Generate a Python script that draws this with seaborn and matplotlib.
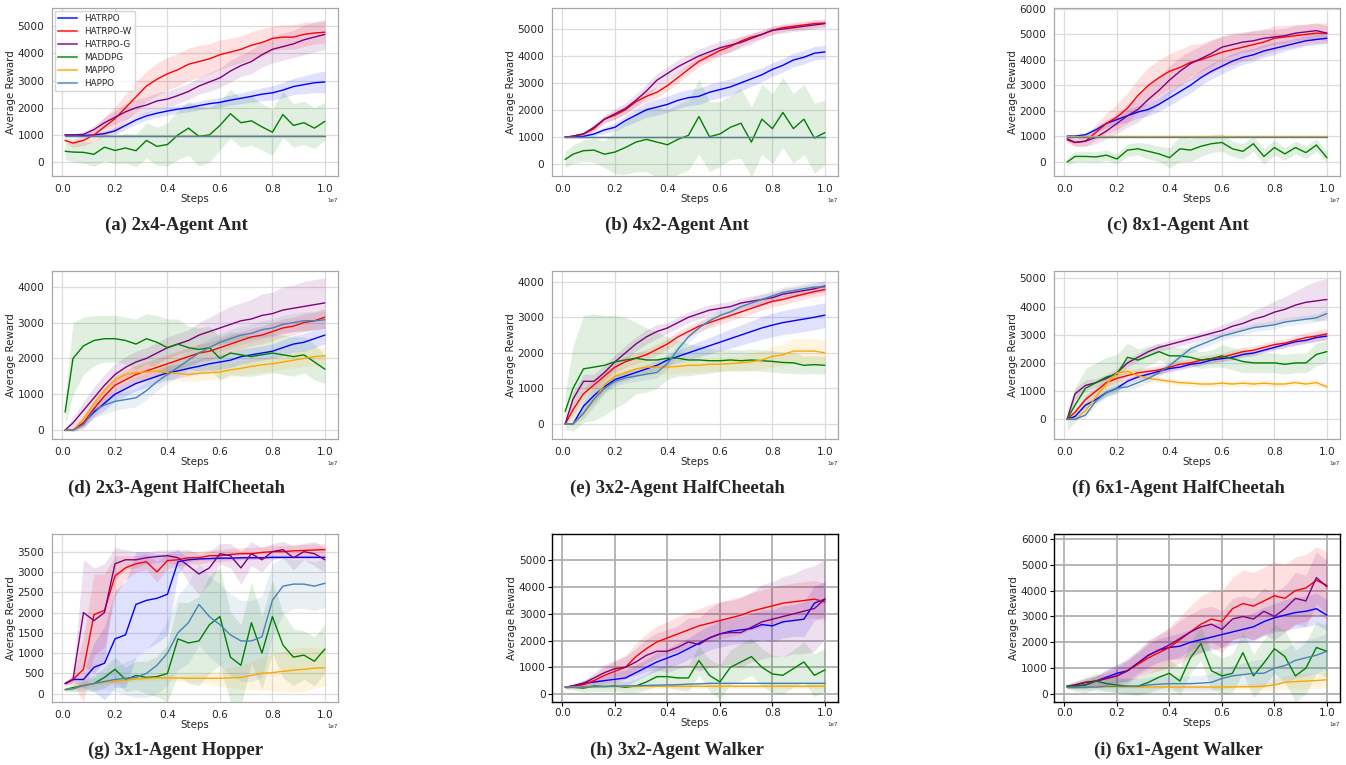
import numpy as np
import pandas as pd
import seaborn as sns
import matplotlib.pyplot as plt
from matplotlib.lines import Line2D
from matplotlib.ticker import MultipleLocator

# x positions of the read-off points (in units of 1e7 steps)
STEPS = [0.01, 0.04, 0.08, 0.12, 0.16, 0.20, 0.24, 0.28, 0.32, 0.36, 0.40, 0.44, 0.48,
         0.52, 0.56, 0.60, 0.64, 0.68, 0.72, 0.76, 0.80, 0.84, 0.88, 0.92, 0.96, 1.00]

ALGOS = ["HATRPO", "HATRPO-W", "HATRPO-G", "MADDPG", "MAPPO", "HAPPO"]
COLORS = ["blue", "red", "purple", "green", "orange", "steelblue"]

# (a) 2x4-Agent Ant
a_hatrpo = [1000, 1000, 980, 1000, 1050, 1150, 1350, 1550, 1700, 1800, 1880, 1950, 2000, 2080, 2150, 2200, 2280, 2350, 2420, 2500, 2550, 2650, 2780, 2850, 2920, 2950]
a_hatrpo_sd = [20, 30, 40, 60, 100, 130, 150, 150, 150, 150, 150, 150, 150, 160, 170, 180, 190, 200, 220, 240, 260, 280, 300, 330, 360, 400]
a_hatrpo_w = [800, 700, 800, 1000, 1300, 1600, 2000, 2400, 2800, 3050, 3250, 3400, 3600, 3700, 3800, 3950, 4050, 4150, 4300, 4400, 4550, 4600, 4600, 4700, 4750, 4780]
a_hatrpo_w_sd = [100, 150, 200, 250, 350, 450, 500, 550, 550, 600, 600, 600, 600, 600, 550, 550, 500, 500, 500, 500, 450, 450, 450, 450, 400, 400]
a_hatrpo_g = [1000, 1000, 1020, 1200, 1450, 1650, 1850, 2000, 2100, 2250, 2320, 2450, 2600, 2800, 2950, 3100, 3350, 3550, 3700, 3950, 4150, 4250, 4350, 4500, 4600, 4700]
a_hatrpo_g_sd = [20, 50, 100, 150, 200, 250, 300, 300, 300, 300, 300, 300, 300, 300, 350, 350, 400, 400, 450, 450, 500, 500, 500, 550, 550, 550]
a_maddpg = [400, 370, 360, 290, 550, 430, 520, 420, 800, 580, 650, 1000, 1250, 950, 1000, 1350, 1780, 1450, 1520, 1300, 1100, 1750, 1350, 1450, 1250, 1500]
a_maddpg_sd = [300, 350, 400, 450, 500, 500, 550, 600, 650, 700, 800, 900, 1000, 1100, 1000, 900, 900, 900, 900, 850, 850, 850, 800, 800, 750, 700]
a_mappo = [975, 975, 975, 975, 975, 975, 975, 975, 975, 975, 975, 975, 975, 975, 975, 975, 975, 975, 975, 975, 975, 975, 975, 975, 975, 975]
a_mappo_sd = [10, 10, 10, 10, 10, 10, 10, 10, 10, 10, 10, 10, 10, 10, 10, 10, 10, 10, 10, 10, 10, 10, 10, 10, 10, 10]
a_happo = [975, 975, 975, 975, 975, 975, 975, 975, 975, 975, 975, 975, 975, 975, 975, 975, 975, 975, 975, 975, 975, 975, 975, 975, 975, 975]
a_happo_sd = [10, 10, 10, 10, 10, 10, 10, 10, 10, 10, 10, 10, 10, 10, 10, 10, 10, 10, 10, 10, 10, 10, 10, 10, 10, 10]

# (b) 4x2-Agent Ant
b_hatrpo = [1000, 1000, 1010, 1100, 1250, 1350, 1600, 1800, 2000, 2100, 2200, 2350, 2450, 2500, 2650, 2750, 2850, 3000, 3150, 3300, 3500, 3650, 3850, 3950, 4100, 4150]
b_hatrpo_sd = [20, 30, 50, 80, 120, 150, 200, 250, 280, 300, 300, 300, 300, 300, 300, 300, 300, 300, 280, 260, 250, 250, 250, 250, 250, 250]
b_hatrpo_w = [980, 1020, 1100, 1300, 1650, 1800, 2000, 2300, 2500, 2650, 2900, 3200, 3500, 3800, 4000, 4200, 4350, 4550, 4700, 4800, 4950, 5050, 5100, 5150, 5200, 5220]
b_hatrpo_w_sd = [30, 50, 80, 100, 120, 150, 150, 180, 200, 200, 200, 200, 200, 200, 200, 200, 200, 180, 150, 150, 150, 150, 150, 150, 150, 150]
b_hatrpo_g = [980, 1020, 1100, 1350, 1650, 1850, 2050, 2350, 2700, 3100, 3350, 3600, 3800, 4000, 4150, 4300, 4400, 4500, 4650, 4800, 4950, 5000, 5050, 5100, 5150, 5200]
b_hatrpo_g_sd = [30, 50, 80, 120, 150, 200, 200, 250, 250, 250, 250, 250, 250, 250, 250, 250, 250, 200, 200, 150, 150, 150, 150, 150, 150, 150]
b_maddpg = [150, 350, 480, 500, 350, 430, 600, 800, 900, 800, 700, 900, 1050, 1750, 1000, 1100, 1350, 1500, 800, 1650, 1300, 1900, 1300, 1650, 950, 1150]
b_maddpg_sd = [300, 350, 400, 450, 500, 800, 1000, 1100, 1200, 1300, 1300, 1300, 1300, 1400, 1300, 1200, 1200, 1300, 1300, 1300, 1300, 1300, 1300, 1300, 1300, 1200]
b_mappo = [975, 975, 975, 975, 975, 975, 975, 975, 975, 975, 975, 975, 975, 975, 975, 975, 975, 975, 975, 975, 975, 975, 975, 975, 975, 975]
b_mappo_sd = [10, 10, 10, 10, 10, 10, 10, 10, 10, 10, 10, 10, 10, 10, 10, 10, 10, 10, 10, 10, 10, 10, 10, 10, 10, 10]
b_happo = [975, 975, 975, 975, 975, 975, 975, 975, 975, 975, 975, 975, 975, 975, 975, 975, 975, 975, 975, 975, 975, 975, 975, 975, 975, 975]
b_happo_sd = [10, 10, 10, 10, 10, 10, 10, 10, 10, 10, 10, 10, 10, 10, 10, 10, 10, 10, 10, 10, 10, 10, 10, 10, 10, 10]

# (c) 8x1-Agent Ant
c_hatrpo = [1000, 1000, 1050, 1250, 1500, 1650, 1800, 1950, 2050, 2250, 2500, 2750, 3000, 3300, 3550, 3750, 3950, 4100, 4200, 4350, 4450, 4550, 4650, 4750, 4800, 4850]
c_hatrpo_sd = [50, 80, 100, 120, 150, 200, 250, 250, 250, 280, 300, 300, 300, 300, 300, 300, 300, 280, 250, 250, 250, 200, 200, 200, 200, 200]
c_hatrpo_w = [850, 750, 800, 1150, 1500, 1750, 2100, 2600, 3000, 3300, 3550, 3700, 3900, 4000, 4150, 4300, 4400, 4500, 4600, 4700, 4850, 4900, 4950, 5000, 5050, 5050]
c_hatrpo_w_sd = [100, 150, 200, 300, 400, 500, 600, 650, 700, 700, 700, 700, 700, 650, 650, 600, 600, 550, 550, 500, 500, 450, 450, 400, 400, 400]
c_hatrpo_g = [900, 750, 800, 950, 1200, 1500, 1800, 2050, 2450, 2800, 3200, 3550, 3850, 4050, 4250, 4500, 4600, 4700, 4750, 4850, 4900, 4950, 5050, 5100, 5150, 5050]
c_hatrpo_g_sd = [100, 150, 200, 250, 300, 400, 450, 500, 550, 550, 550, 550, 500, 500, 500, 450, 450, 400, 400, 350, 300, 300, 300, 300, 300, 300]
c_maddpg = [-20, 200, 200, 180, 250, 100, 450, 500, 400, 300, 150, 500, 450, 600, 700, 750, 500, 400, 700, 200, 550, 300, 550, 350, 650, 150]
c_maddpg_sd = [150, 200, 200, 200, 200, 200, 250, 250, 300, 300, 400, 500, 450, 400, 350, 350, 300, 300, 300, 300, 300, 250, 250, 250, 250, 200]
c_mappo = [985, 985, 985, 985, 985, 985, 985, 985, 985, 985, 985, 985, 985, 985, 985, 985, 985, 985, 985, 985, 985, 985, 985, 985, 985, 985]
c_mappo_sd = [15, 15, 15, 15, 15, 15, 15, 15, 15, 15, 15, 15, 15, 15, 15, 15, 15, 15, 15, 15, 15, 15, 15, 15, 15, 15]
c_happo = [950, 950, 950, 950, 950, 950, 950, 950, 950, 950, 950, 950, 950, 950, 950, 950, 950, 950, 950, 950, 950, 950, 950, 950, 950, 950]
c_happo_sd = [10, 10, 10, 10, 10, 10, 10, 10, 10, 10, 10, 10, 10, 10, 10, 10, 10, 10, 10, 10, 10, 10, 10, 10, 10, 10]

# (d) 2x3-Agent HalfCheetah
d_hatrpo = [0, 0, 200, 500, 750, 1000, 1150, 1300, 1400, 1500, 1600, 1650, 1720, 1780, 1850, 1900, 1950, 2050, 2100, 2150, 2200, 2300, 2400, 2450, 2550, 2650]
d_hatrpo_sd = [10, 20, 100, 150, 200, 200, 200, 200, 200, 200, 200, 200, 200, 200, 200, 200, 200, 200, 200, 200, 200, 220, 230, 250, 250, 250]
d_hatrpo_w = [0, 0, 200, 600, 950, 1250, 1400, 1550, 1650, 1750, 1850, 1950, 2050, 2150, 2200, 2300, 2400, 2500, 2600, 2650, 2750, 2850, 2900, 3000, 3050, 3150]
d_hatrpo_w_sd = [10, 50, 150, 200, 250, 250, 250, 250, 250, 250, 250, 250, 250, 250, 250, 250, 250, 250, 250, 250, 250, 250, 250, 250, 250, 250]
d_hatrpo_g = [0, 200, 550, 900, 1250, 1550, 1750, 1900, 2000, 2150, 2300, 2400, 2500, 2650, 2750, 2850, 2950, 3050, 3100, 3200, 3250, 3350, 3400, 3450, 3500, 3550]
d_hatrpo_g_sd = [50, 150, 250, 300, 300, 300, 300, 300, 300, 300, 300, 300, 300, 350, 400, 450, 500, 500, 550, 600, 600, 650, 650, 700, 700, 700]
d_maddpg = [500, 2000, 2350, 2500, 2550, 2550, 2500, 2400, 2550, 2450, 2300, 2400, 2300, 2250, 2300, 2000, 2150, 2100, 2050, 2100, 2150, 2100, 2050, 2100, 1900, 1700]
d_maddpg_sd = [400, 1000, 800, 700, 650, 650, 650, 700, 700, 750, 800, 700, 600, 600, 600, 600, 600, 600, 550, 550, 550, 550, 550, 500, 500, 400]
d_mappo = [0, 0, 300, 750, 1100, 1400, 1550, 1600, 1620, 1650, 1600, 1580, 1550, 1580, 1600, 1620, 1680, 1720, 1780, 1820, 1850, 1900, 1950, 2000, 2050, 2070]
d_mappo_sd = [10, 30, 150, 200, 200, 200, 200, 200, 200, 200, 200, 200, 200, 200, 200, 200, 200, 200, 200, 200, 200, 200, 220, 230, 250, 250]
d_happo = [0, 0, 150, 550, 700, 800, 850, 900, 1100, 1350, 1550, 1750, 1950, 2150, 2300, 2450, 2550, 2650, 2700, 2800, 2850, 2950, 3000, 3050, 3050, 3080]
d_happo_sd = [10, 20, 100, 200, 250, 250, 250, 250, 250, 250, 250, 250, 250, 250, 250, 250, 250, 250, 250, 250, 250, 250, 250, 250, 250, 250]

# (e) 3x2-Agent HalfCheetah
e_hatrpo = [0, 0, 500, 800, 1050, 1250, 1350, 1450, 1550, 1650, 1800, 1900, 2000, 2100, 2200, 2300, 2400, 2500, 2600, 2700, 2780, 2850, 2900, 2950, 3000, 3060]
e_hatrpo_sd = [10, 20, 150, 200, 150, 120, 120, 120, 120, 130, 150, 170, 200, 220, 230, 250, 270, 280, 300, 320, 330, 340, 350, 350, 350, 350]
e_hatrpo_w = [0, 400, 850, 1100, 1350, 1600, 1750, 1850, 1950, 2100, 2250, 2450, 2600, 2750, 2850, 2950, 3050, 3150, 3250, 3350, 3450, 3500, 3580, 3650, 3720, 3780]
e_hatrpo_w_sd = [20, 150, 150, 150, 150, 150, 150, 150, 150, 150, 150, 150, 150, 150, 150, 150, 150, 150, 150, 150, 150, 150, 150, 150, 150, 150]
e_hatrpo_g = [0, 700, 1200, 1200, 1450, 1750, 2000, 2250, 2450, 2600, 2700, 2850, 3000, 3100, 3200, 3250, 3300, 3400, 3450, 3500, 3550, 3650, 3700, 3750, 3800, 3880]
e_hatrpo_g_sd = [20, 200, 200, 200, 200, 200, 200, 200, 200, 200, 150, 150, 150, 150, 150, 150, 150, 150, 150, 150, 150, 150, 150, 150, 150, 150]
e_maddpg = [350, 1000, 1550, 1600, 1650, 1750, 1800, 1850, 1800, 1800, 1850, 1850, 1800, 1800, 1780, 1780, 1800, 1780, 1800, 1780, 1760, 1730, 1720, 1650, 1670, 1650]
e_maddpg_sd = [500, 1200, 1500, 1500, 1400, 1300, 1200, 1000, 900, 800, 600, 500, 450, 400, 350, 300, 300, 300, 300, 300, 300, 300, 300, 250, 250, 250]
e_mappo = [0, 0, 300, 700, 1100, 1350, 1450, 1550, 1600, 1600, 1600, 1620, 1650, 1650, 1680, 1680, 1700, 1720, 1750, 1800, 1900, 1950, 2050, 2050, 2050, 2000]
e_mappo_sd = [10, 20, 150, 200, 200, 200, 200, 200, 200, 200, 200, 200, 200, 200, 200, 200, 200, 200, 250, 250, 300, 300, 350, 350, 350, 350]
e_happo = [0, 0, 300, 700, 1000, 1200, 1300, 1350, 1400, 1450, 1700, 2100, 2450, 2700, 2900, 3050, 3150, 3300, 3400, 3500, 3600, 3700, 3750, 3800, 3850, 3850]
e_happo_sd = [10, 20, 150, 200, 150, 150, 150, 150, 150, 150, 150, 150, 150, 150, 150, 150, 150, 150, 150, 150, 150, 150, 150, 150, 150, 150]

# (f) 6x1-Agent HalfCheetah
f_hatrpo = [0, 100, 500, 700, 950, 1100, 1350, 1500, 1600, 1700, 1800, 1850, 1950, 2000, 2100, 2150, 2200, 2300, 2350, 2450, 2550, 2650, 2750, 2800, 2900, 2950]
f_hatrpo_sd = [20, 50, 100, 100, 100, 100, 100, 100, 100, 100, 100, 100, 100, 100, 100, 100, 100, 100, 100, 100, 100, 100, 120, 120, 130, 130]
f_hatrpo_w = [0, 250, 700, 1000, 1300, 1450, 1550, 1650, 1700, 1750, 1850, 1950, 2000, 2100, 2150, 2200, 2300, 2400, 2450, 2550, 2650, 2700, 2800, 2900, 2950, 3030]
f_hatrpo_w_sd = [20, 100, 150, 150, 150, 150, 150, 150, 150, 150, 150, 150, 150, 150, 150, 150, 150, 150, 150, 150, 150, 150, 170, 180, 200, 200]
f_hatrpo_g = [0, 900, 1200, 1300, 1450, 1650, 2000, 2200, 2400, 2550, 2650, 2750, 2850, 2950, 3050, 3150, 3300, 3400, 3550, 3650, 3800, 3900, 4050, 4150, 4200, 4250]
f_hatrpo_g_sd = [50, 200, 200, 150, 150, 150, 150, 150, 150, 150, 150, 150, 150, 150, 150, 200, 200, 250, 300, 350, 400, 450, 500, 600, 700, 750]
f_maddpg = [0, 500, 1100, 1300, 1500, 1600, 2200, 2100, 2250, 2400, 2250, 2250, 2200, 2100, 2150, 2250, 2150, 2050, 2000, 2000, 2000, 1950, 2000, 2000, 2300, 2400]
f_maddpg_sd = [400, 600, 700, 700, 700, 700, 500, 400, 350, 300, 300, 300, 300, 300, 300, 400, 400, 400, 350, 350, 350, 350, 350, 350, 400, 400]
f_mappo = [0, 0, 300, 800, 1250, 1650, 1700, 1550, 1450, 1400, 1350, 1300, 1280, 1250, 1250, 1280, 1250, 1280, 1250, 1280, 1250, 1250, 1300, 1250, 1300, 1150]
f_mappo_sd = [10, 20, 100, 150, 150, 150, 150, 150, 150, 100, 100, 100, 100, 100, 100, 100, 100, 100, 100, 100, 100, 100, 100, 100, 100, 100]
f_happo = [0, 0, 150, 650, 950, 1100, 1150, 1300, 1450, 1650, 1900, 2200, 2500, 2650, 2800, 2950, 3050, 3150, 3250, 3300, 3350, 3450, 3500, 3550, 3600, 3750]
f_happo_sd = [10, 20, 100, 150, 150, 150, 150, 150, 150, 150, 150, 150, 150, 150, 150, 150, 150, 150, 150, 150, 150, 150, 150, 150, 150, 150]

# (g) 3x1-Agent Hopper
g_hatrpo = [250, 350, 350, 650, 750, 1350, 1450, 2200, 2300, 2350, 2450, 3250, 3300, 3320, 3330, 3340, 3340, 3350, 3350, 3350, 3360, 3360, 3360, 3360, 3360, 3360]
g_hatrpo_sd = [30, 50, 200, 600, 900, 1200, 1300, 1300, 1200, 1100, 1000, 300, 50, 30, 30, 30, 30, 30, 30, 30, 30, 30, 30, 30, 30, 30]
g_hatrpo_w = [250, 350, 600, 1950, 2050, 2900, 3100, 3200, 3250, 3000, 3280, 3300, 3350, 3350, 3400, 3400, 3430, 3450, 3450, 3480, 3500, 3500, 3520, 3530, 3540, 3550]
g_hatrpo_w_sd = [50, 100, 800, 1000, 900, 500, 300, 200, 200, 250, 200, 150, 150, 150, 150, 150, 150, 150, 150, 150, 150, 150, 150, 150, 150, 150]
g_hatrpo_g = [250, 350, 2000, 1800, 2000, 3200, 3300, 3300, 3350, 3380, 3400, 3350, 3150, 2950, 3100, 3450, 3400, 3100, 3450, 3300, 3500, 3550, 3350, 3500, 3450, 3300]
g_hatrpo_g_sd = [50, 100, 1300, 1300, 1200, 400, 250, 200, 150, 150, 150, 200, 400, 500, 400, 250, 300, 400, 300, 300, 200, 200, 300, 200, 300, 300]
g_maddpg = [100, 150, 200, 250, 400, 600, 350, 450, 400, 420, 500, 1350, 1250, 1300, 1700, 1900, 900, 700, 1750, 1000, 1900, 1200, 900, 950, 800, 1100]
g_maddpg_sd = [50, 100, 150, 200, 250, 300, 300, 350, 400, 500, 700, 900, 1000, 1100, 1200, 1200, 1100, 1000, 1000, 900, 900, 800, 700, 600, 600, 600]
g_mappo = [100, 120, 200, 250, 280, 300, 330, 360, 380, 390, 390, 385, 380, 380, 380, 380, 390, 400, 450, 500, 520, 550, 580, 600, 630, 640]
g_mappo_sd = [20, 30, 50, 60, 60, 60, 60, 60, 60, 60, 60, 70, 80, 100, 150, 200, 250, 300, 350, 400, 450, 500, 550, 550, 500, 450]
g_happo = [100, 120, 200, 250, 300, 350, 380, 400, 500, 700, 1000, 1500, 1750, 2200, 1900, 1700, 1450, 1300, 1300, 1400, 2300, 2650, 2700, 2700, 2650, 2720]
g_happo_sd = [30, 50, 100, 150, 200, 300, 400, 500, 600, 700, 800, 900, 1000, 1000, 1000, 1000, 1000, 1000, 1000, 1000, 900, 700, 600, 600, 600, 600]

# (h) 3x2-Agent Walker
h_hatrpo = [250, 300, 400, 450, 500, 550, 600, 800, 1000, 1200, 1350, 1500, 1700, 1900, 2100, 2250, 2350, 2400, 2450, 2600, 2550, 2700, 2750, 2800, 3400, 3550]
h_hatrpo_sd = [30, 50, 100, 150, 200, 250, 300, 300, 300, 350, 350, 400, 400, 450, 450, 500, 500, 500, 550, 550, 600, 600, 600, 650, 650, 650]
h_hatrpo_w = [250, 300, 350, 500, 700, 850, 1000, 1400, 1700, 1950, 2100, 2250, 2400, 2550, 2650, 2750, 2850, 2950, 3100, 3200, 3300, 3400, 3450, 3500, 3550, 3450]
h_hatrpo_w_sd = [50, 100, 150, 200, 300, 400, 450, 500, 550, 600, 600, 650, 650, 650, 700, 700, 700, 700, 700, 700, 700, 700, 700, 700, 700, 700]
h_hatrpo_g = [250, 300, 400, 600, 800, 950, 1000, 1200, 1450, 1600, 1600, 1750, 1950, 1850, 2100, 2250, 2300, 2300, 2500, 2700, 2800, 2900, 3000, 3100, 3200, 3550]
h_hatrpo_g_sd = [50, 50, 100, 200, 300, 300, 400, 500, 600, 700, 800, 800, 900, 1000, 1100, 1200, 1200, 1300, 1300, 1400, 1400, 1500, 1500, 1600, 1600, 1500]
h_maddpg = [250, 250, 220, 300, 280, 300, 250, 300, 450, 650, 650, 600, 600, 1250, 700, 450, 1000, 1200, 1400, 1000, 750, 700, 950, 1200, 700, 900]
h_maddpg_sd = [50, 100, 150, 200, 200, 200, 200, 250, 300, 350, 400, 450, 500, 550, 600, 650, 650, 700, 700, 700, 700, 700, 700, 750, 800, 800]
h_mappo = [250, 260, 270, 270, 280, 280, 280, 280, 290, 290, 290, 290, 290, 290, 290, 290, 290, 290, 290, 290, 290, 290, 290, 290, 290, 290]
h_mappo_sd = [30, 30, 40, 50, 60, 70, 80, 80, 80, 80, 80, 80, 80, 80, 80, 80, 80, 80, 80, 80, 80, 80, 80, 80, 80, 80]
h_happo = [250, 250, 260, 270, 280, 290, 300, 310, 320, 330, 340, 350, 370, 380, 400, 400, 400, 400, 400, 400, 400, 400, 400, 400, 400, 400]
h_happo_sd = [20, 20, 20, 20, 30, 30, 30, 30, 30, 30, 30, 30, 30, 30, 30, 30, 30, 30, 30, 30, 30, 30, 30, 30, 30, 30]

# (i) 6x1-Agent Walker
i_hatrpo = [300, 300, 350, 500, 650, 800, 900, 1200, 1500, 1700, 1800, 1850, 2000, 2100, 2200, 2300, 2400, 2500, 2600, 2800, 2950, 3050, 3150, 3200, 3300, 3050]
i_hatrpo_sd = [50, 100, 150, 200, 300, 350, 400, 400, 450, 450, 450, 500, 500, 500, 500, 500, 500, 500, 550, 550, 550, 600, 600, 600, 600, 600]
i_hatrpo_w = [300, 350, 450, 500, 600, 700, 900, 1150, 1400, 1600, 1800, 2100, 2400, 2700, 2900, 2800, 3300, 3500, 3400, 3600, 3800, 3700, 4000, 4100, 4400, 4200]
i_hatrpo_w_sd = [50, 100, 150, 200, 250, 300, 400, 500, 600, 700, 800, 900, 1000, 1100, 1100, 1200, 1200, 1300, 1300, 1300, 1300, 1300, 1300, 1300, 1300, 1300]
i_hatrpo_g = [300, 350, 450, 500, 600, 700, 900, 1200, 1500, 1700, 1900, 2150, 2400, 2600, 2700, 2500, 2900, 3000, 2900, 3200, 3000, 3300, 3700, 3600, 4500, 4150]
i_hatrpo_g_sd = [50, 100, 150, 200, 300, 400, 500, 500, 600, 600, 600, 700, 700, 700, 700, 700, 800, 800, 800, 900, 900, 900, 1000, 1000, 1000, 1000]
i_maddpg = [300, 300, 350, 500, 400, 350, 300, 300, 450, 650, 800, 500, 1400, 1950, 900, 700, 800, 1600, 700, 1200, 1750, 1450, 700, 1000, 1800, 1650]
i_maddpg_sd = [100, 200, 300, 300, 300, 300, 300, 350, 400, 450, 500, 550, 600, 650, 700, 700, 750, 800, 850, 900, 950, 1000, 1000, 1000, 1000, 1000]
i_mappo = [250, 250, 260, 260, 270, 270, 270, 270, 270, 270, 270, 270, 270, 270, 270, 270, 270, 280, 280, 300, 350, 450, 480, 500, 520, 550]
i_mappo_sd = [30, 30, 40, 50, 60, 60, 60, 60, 60, 70, 80, 80, 80, 80, 80, 80, 80, 100, 120, 150, 200, 250, 300, 300, 300, 300]
i_happo = [250, 250, 260, 270, 300, 300, 300, 300, 350, 380, 400, 400, 400, 420, 450, 600, 700, 750, 800, 800, 1000, 1100, 1300, 1400, 1500, 1650]
i_happo_sd = [30, 50, 100, 150, 200, 250, 300, 300, 300, 300, 300, 300, 300, 300, 350, 400, 400, 450, 500, 550, 600, 650, 700, 700, 700, 700]

# caption, means, spreads, y-limits, y tick step, dark frame
PANELS = [
    ("(a) 2x4-Agent Ant",
     [a_hatrpo, a_hatrpo_w, a_hatrpo_g, a_maddpg, a_mappo, a_happo],
     [a_hatrpo_sd, a_hatrpo_w_sd, a_hatrpo_g_sd, a_maddpg_sd, a_mappo_sd, a_happo_sd],
     (-510, 5670), 1000, False),
    ("(b) 4x2-Agent Ant",
     [b_hatrpo, b_hatrpo_w, b_hatrpo_g, b_maddpg, b_mappo, b_happo],
     [b_hatrpo_sd, b_hatrpo_w_sd, b_hatrpo_g_sd, b_maddpg_sd, b_mappo_sd, b_happo_sd],
     (-460, 5780), 1000, False),
    ("(c) 8x1-Agent Ant",
     [c_hatrpo, c_hatrpo_w, c_hatrpo_g, c_maddpg, c_mappo, c_happo],
     [c_hatrpo_sd, c_hatrpo_w_sd, c_hatrpo_g_sd, c_maddpg_sd, c_mappo_sd, c_happo_sd],
     (-570, 6040), 1000, False),
    ("(d) 2x3-Agent HalfCheetah",
     [d_hatrpo, d_hatrpo_w, d_hatrpo_g, d_maddpg, d_mappo, d_happo],
     [d_hatrpo_sd, d_hatrpo_w_sd, d_hatrpo_g_sd, d_maddpg_sd, d_mappo_sd, d_happo_sd],
     (-250, 4440), 1000, False),
    ("(e) 3x2-Agent HalfCheetah",
     [e_hatrpo, e_hatrpo_w, e_hatrpo_g, e_maddpg, e_mappo, e_happo],
     [e_hatrpo_sd, e_hatrpo_w_sd, e_hatrpo_g_sd, e_maddpg_sd, e_mappo_sd, e_happo_sd],
     (-420, 4300), 1000, False),
    ("(f) 6x1-Agent HalfCheetah",
     [f_hatrpo, f_hatrpo_w, f_hatrpo_g, f_maddpg, f_mappo, f_happo],
     [f_hatrpo_sd, f_hatrpo_w_sd, f_hatrpo_g_sd, f_maddpg_sd, f_mappo_sd, f_happo_sd],
     (-700, 5260), 1000, False),
    ("(g) 3x1-Agent Hopper",
     [g_hatrpo, g_hatrpo_w, g_hatrpo_g, g_maddpg, g_mappo, g_happo],
     [g_hatrpo_sd, g_hatrpo_w_sd, g_hatrpo_g_sd, g_maddpg_sd, g_mappo_sd, g_happo_sd],
     (-205, 3935), 500, False),
    ("(h) 3x2-Agent Walker",
     [h_hatrpo, h_hatrpo_w, h_hatrpo_g, h_maddpg, h_mappo, h_happo],
     [h_hatrpo_sd, h_hatrpo_w_sd, h_hatrpo_g_sd, h_maddpg_sd, h_mappo_sd, h_happo_sd],
     (-300, 5990), 1000, True),
    ("(i) 6x1-Agent Walker",
     [i_hatrpo, i_hatrpo_w, i_hatrpo_g, i_maddpg, i_mappo, i_happo],
     [i_hatrpo_sd, i_hatrpo_w_sd, i_hatrpo_g_sd, i_maddpg_sd, i_mappo_sd, i_happo_sd],
     (-310, 6190), 1000, True),
]

sns.set_style("whitegrid")

W, H = 1346, 765
fig = plt.figure(figsize=(W / 100, H / 100), dpi=100)
col_left = [52, 552, 1054]
row_top = [8, 271, 534]
ax_w, ax_h = 286, 168
cap_x = [176, 677, 1178]
cap_y = [225, 488, 750]
palette = dict(zip(ALGOS, COLORS))
x = np.array(STEPS) * 1e7

for idx, (caption, means, sds, ylim, ystep, dark) in enumerate(PANELS):
    r, c = divmod(idx, 3)
    ax = fig.add_axes([col_left[c] / W, 1 - (row_top[r] + ax_h) / H, ax_w / W, ax_h / H])

    frames = []
    for name, m in zip(ALGOS, means):
        frames.append(pd.DataFrame({"Steps": x, "Average Reward": m, "algo": name}))
    df = pd.concat(frames, ignore_index=True)

    for m, s, col in zip(means, sds, COLORS):
        m = np.array(m, dtype=float)
        s = np.array(s, dtype=float)
        ax.fill_between(x, m - s, m + s, color=col, alpha=0.12, lw=0)

    sns.lineplot(data=df, x="Steps", y="Average Reward", hue="algo", hue_order=ALGOS,
                 palette=palette, lw=1.0, errorbar=None, legend=False, ax=ax)

    ax.set_xlim(-0.04e7, 1.05e7)
    ax.set_ylim(*ylim)
    ax.xaxis.set_major_locator(MultipleLocator(0.2e7))
    ax.yaxis.set_major_locator(MultipleLocator(ystep))
    ax.tick_params(labelsize=7.6, pad=2)
    ax.set_xlabel("Steps", fontsize=7.4, labelpad=0)
    ax.set_ylabel("Average Reward", fontsize=7.4, labelpad=1)
    ax.xaxis.get_offset_text().set_fontsize(4)

    if dark:
        ax.grid(color="#b0b0b0", lw=1.3)
        ax.tick_params(left=True, bottom=True, length=3, width=0.8, color="black", pad=1.5)
        for sp in ax.spines.values():
            sp.set_edgecolor("black")
            sp.set_linewidth(1.0)
    else:
        ax.grid(color="#dcdcdc", lw=0.9)
        for sp in ax.spines.values():
            sp.set_edgecolor("#a8a8a8")
            sp.set_linewidth(0.9)

    if idx == 0:
        handles = [Line2D([], [], color=col, lw=1.5, alpha=0.7) for col in COLORS]
        ax.legend(handles, ALGOS, loc="upper left", fontsize=6.3, frameon=True,
                  handlelength=2.2, borderpad=0.4, labelspacing=0.45, borderaxespad=0.3)

    fig.text(cap_x[c] / W, 1 - cap_y[r] / H, caption, ha="center", va="center",
             family="Liberation Serif", fontweight="bold", fontsize=13.5)

fig.savefig("out.png", dpi=100)
